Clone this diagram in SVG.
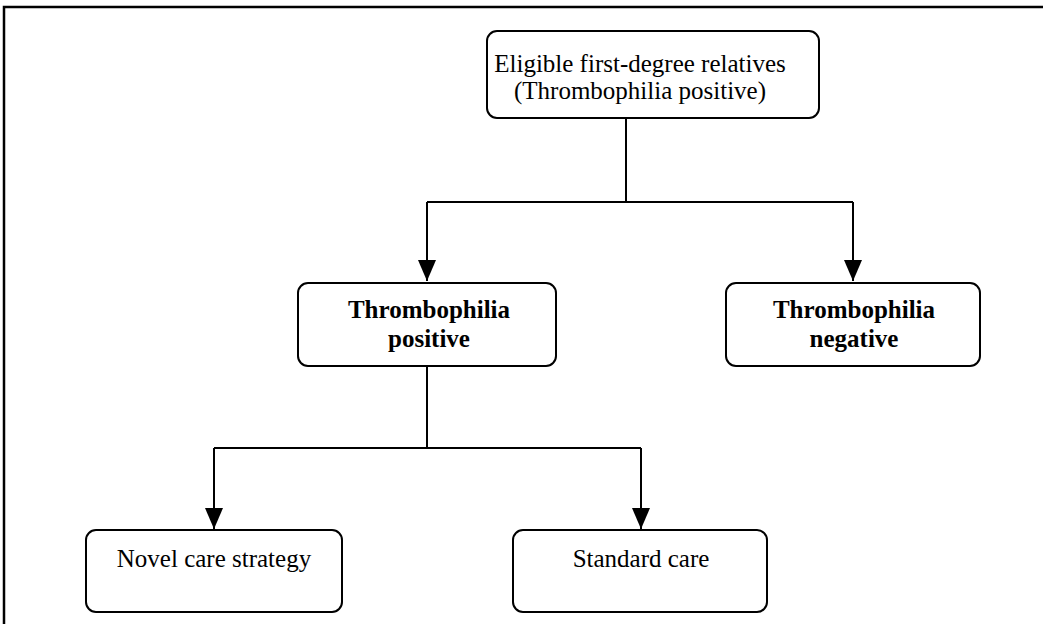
<svg xmlns="http://www.w3.org/2000/svg" width="1043" height="624" viewBox="0 0 1043 624">
<style>
.box{fill:#fff;stroke:#000;stroke-width:2}
.t{font-family:"Liberation Serif","Times New Roman",serif;font-size:25px;fill:#000;text-anchor:middle}
.b{font-weight:bold}
.c{fill:none;stroke:#000;stroke-width:2}
</style>
<defs>
<marker id="ah" markerWidth="21" markerHeight="18" refX="21" refY="9" orient="auto" markerUnits="userSpaceOnUse" viewBox="0 0 21 18">
<path d="M0,0 L21,9 L0,18 Z" fill="#000"/>
</marker>
</defs>
<rect x="0" y="0" width="1043" height="624" fill="#fff"/>
<path d="M4,624 V7 H1043" fill="none" stroke="#000" stroke-width="2.5"/>
<g id="connectors">
<path class="c" d="M626,118 V202"/>
<path class="c" d="M427,202 H853"/>
<path class="c" d="M427,202 V281" marker-end="url(#ah)"/>
<path class="c" d="M853,202 V281" marker-end="url(#ah)"/>
<path class="c" d="M427,366 V448"/>
<path class="c" d="M214,448 H641"/>
<path class="c" d="M214,448 V529" marker-end="url(#ah)"/>
<path class="c" d="M641,448 V529" marker-end="url(#ah)"/>
</g>
<g id="n_top">
<rect class="box" x="487" y="31" width="332" height="87" rx="10"/>
<text class="t" x="640" y="72">Eligible first-degree relatives</text>
<text class="t" x="640" y="99">(Thrombophilia positive)</text>
</g>
<g id="n_pos">
<rect class="box" x="298" y="283" width="258" height="83" rx="10"/>
<text class="t b" x="429" y="318">Thrombophilia</text>
<text class="t b" x="429" y="347">positive</text>
</g>
<g id="n_neg">
<rect class="box" x="726" y="283" width="254" height="83" rx="10"/>
<text class="t b" x="854" y="318">Thrombophilia</text>
<text class="t b" x="854" y="347">negative</text>
</g>
<g id="n_novel">
<rect class="box" x="86" y="530" width="256" height="82" rx="10"/>
<text class="t" x="214" y="567">Novel care strategy</text>
</g>
<g id="n_std">
<rect class="box" x="513" y="530" width="254" height="82" rx="10"/>
<text class="t" x="641" y="567">Standard care</text>
</g>
</svg>
